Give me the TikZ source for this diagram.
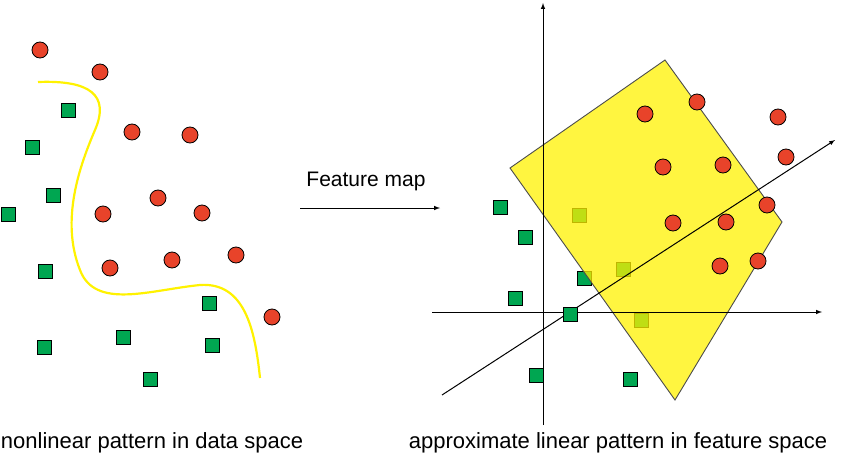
\documentclass[tikz,border=0pt]{standalone}
\usepackage{fontspec}
\setmainfont{Liberation Sans}
\definecolor{rd}{HTML}{E8432A}
\definecolor{gr}{HTML}{00A651}
\definecolor{yl}{HTML}{FFF200}
\begin{document}
\begin{tikzpicture}[x=1pt,y=-1pt,
 rc/.style={circle,draw=black,fill=rd,inner sep=0,minimum size=16,line width=0.8},
 gs/.style={rectangle,draw=black,fill=gr,inner sep=0,minimum size=14,line width=0.8},
 ax/.style={-latex,line width=1}]
\useasboundingbox (0,0) rectangle (850,460);
% left
\draw[yl,line width=2.2] (38,82) .. controls (90,80) and (110,95) .. (95,130) .. controls (80,165) and (60,220) .. (80,270) .. controls (95,310) and (150,290) .. (200,285) .. controls (245,282) and (255,330) .. (260,378);
\foreach \p [count=\i] in {(40,50),(100,72),(132,132),(190,135),(158,198),(103,214),(202,213),(110,268),(172,260),(236,255),(272,317)} \node[rc] (l\i) at \p {};
\foreach \p [count=\i] in {(68,110),(32,147),(53,195),(8,214),(45,271),(209,303),(123,337),(212,345),(44,347),(150,379)} \node[gs] (m\i) at \p {};
\coordinate (fa) at (300,208); \coordinate (fb) at (440,208);
\draw[ax] (fa) -- (fb);
\node (fl) at (366,181) {\fontsize{21}{25}\selectfont Feature map};
% right
\foreach \p [count=\i] in {(500,207),(525,237),(515,298),(536,375),(630,379),(579,215),(584,278),(623,269),(641,320)} \node[gs] (g\i) at \p {};
\fill[yl,opacity=0.75] (510,168) -- (665,60) -- (782,222) -- (675,400) -- cycle;
\draw[black!70,line width=0.9] (510,168) coordinate (p1) -- (665,60) coordinate (p2) -- (782,222) coordinate (p3) -- (675,400) coordinate (p4) -- cycle;
\coordinate (v0) at (543,425); \coordinate (v1) at (543,3);
\coordinate (h0) at (432,312); \coordinate (h1) at (822,312);
\coordinate (d0) at (442,395); \coordinate (d1) at (835,140);
\draw[ax] (v0) -- (v1);
\draw[ax] (h0) -- (h1);
\draw[ax] (d0) -- (d1);
\node[gs] (g10) at (570,314) {};
\foreach \p [count=\i] in {(645,114),(697,102),(778,117),(786,157),(663,167),(723,165),(767,205),(673,223),(726,222),(720,266),(758,261)} \node[rc] (r\i) at \p {};
\node (t1) at (152,443) {\fontsize{22}{26}\selectfont nonlinear pattern in data space};
\node (t2) at (618,443) {\fontsize{22}{26}\selectfont approximate linear pattern in feature space};
\end{tikzpicture}
\end{document}
